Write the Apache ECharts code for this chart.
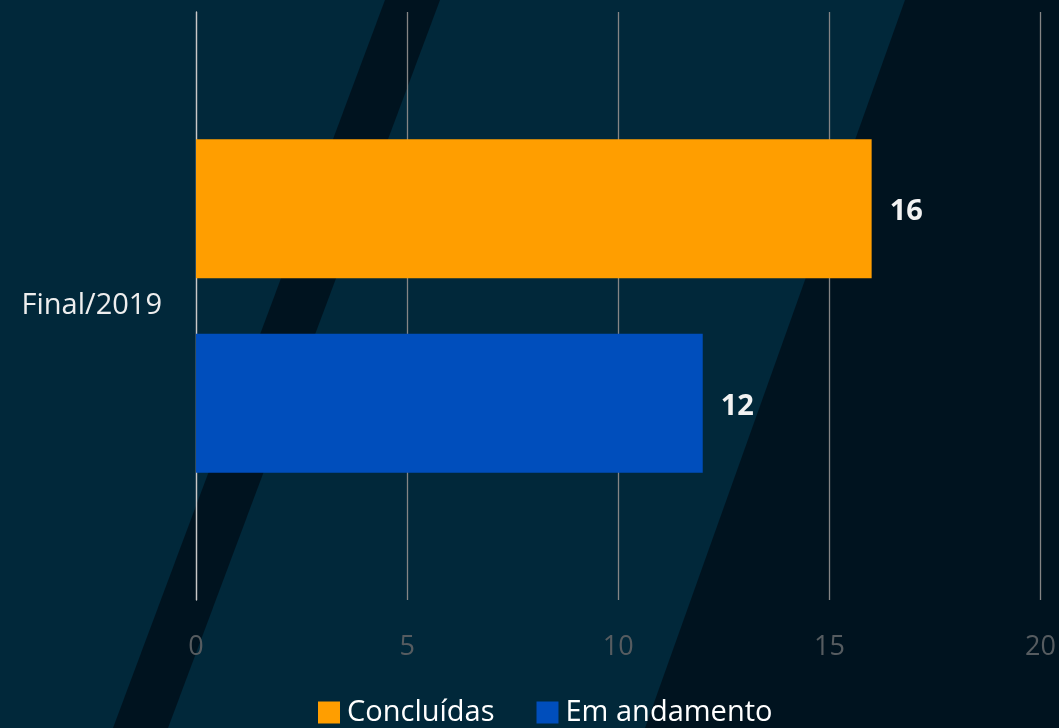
<!DOCTYPE html>
<html>
<head>
<meta charset="utf-8">
<script src="https://cdn.jsdelivr.net/npm/echarts@6/dist/echarts.min.js"></script>
<style>
  html, body { margin: 0; padding: 0; background: #00131f; }
  #main { width: 1059px; height: 728px; }
</style>
</head>
<body>
<div id="main"></div>
<script>
// dados do gráfico
var categorias = ["Final/2019"];
var concluidas = [16];
var emAndamento = [12];
var nomesSeries = ["Concluídas", "Em andamento"];

var chart = echarts.init(document.getElementById("main"));

var option = {
  backgroundColor: "#00131f",
  textStyle: { fontFamily: "Open Sans, Noto Sans, sans-serif" },
  // faixas diagonais do fundo
  graphic: [
    {
      type: "polygon",
      z: -10,
      silent: true,
      shape: { points: [[0, 0], [385, 0], [113, 728], [0, 728]] },
      style: { fill: "#01283a" },
    },
    {
      type: "polygon",
      z: -10,
      silent: true,
      shape: { points: [[440, 0], [905, 0], [645, 728], [168, 728]] },
      style: { fill: "#01283a" },
    },
  ],
  grid: { left: 196, right: 18, top: 12, bottom: 128 },
  legend: {
    data: nomesSeries,
    bottom: -4,
    left: 313,
    itemWidth: 22,
    itemHeight: 22,
    itemGap: 42,
    icon: "rect",
    textStyle: { color: "#ffffff", fontSize: 29, padding: [0, 0, 0, 2] },
  },
  xAxis: {
    type: "value",
    min: 0,
    max: 20,
    interval: 5,
    axisLine: { show: false },
    axisTick: { show: false },
    axisLabel: { color: "#565c60", fontSize: 27, margin: 34 },
    splitLine: { lineStyle: { color: "#858585", width: 1.3 } },
  },
  yAxis: {
    type: "category",
    data: categorias,
    inverse: true,
    axisLine: { show: true, lineStyle: { color: "#c8c8c8", width: 1.3 } },
    axisTick: { show: false },
    axisLabel: { color: "#eeeeee", fontSize: 29, margin: 34 },
  },
  series: [
    {
      name: nomesSeries[0],
      type: "bar",
      data: concluidas,
      barWidth: 139,
      barGap: "40%",
      itemStyle: { color: "#ff9e00" },
      label: {
        show: true,
        position: "right",
        distance: 18,
        offset: [0, 3],
        color: "#f2f2f2",
        fontSize: 29,
        fontWeight: "bold",
      },
    },
    {
      name: nomesSeries[1],
      type: "bar",
      data: emAndamento,
      barWidth: 139,
      barGap: "40%",
      itemStyle: { color: "#004ebc" },
      label: {
        show: true,
        position: "right",
        distance: 18,
        offset: [0, 3],
        color: "#f2f2f2",
        fontSize: 29,
        fontWeight: "bold",
      },
    },
  ],
};

option && chart.setOption(option);
</script>
</body>
</html>
